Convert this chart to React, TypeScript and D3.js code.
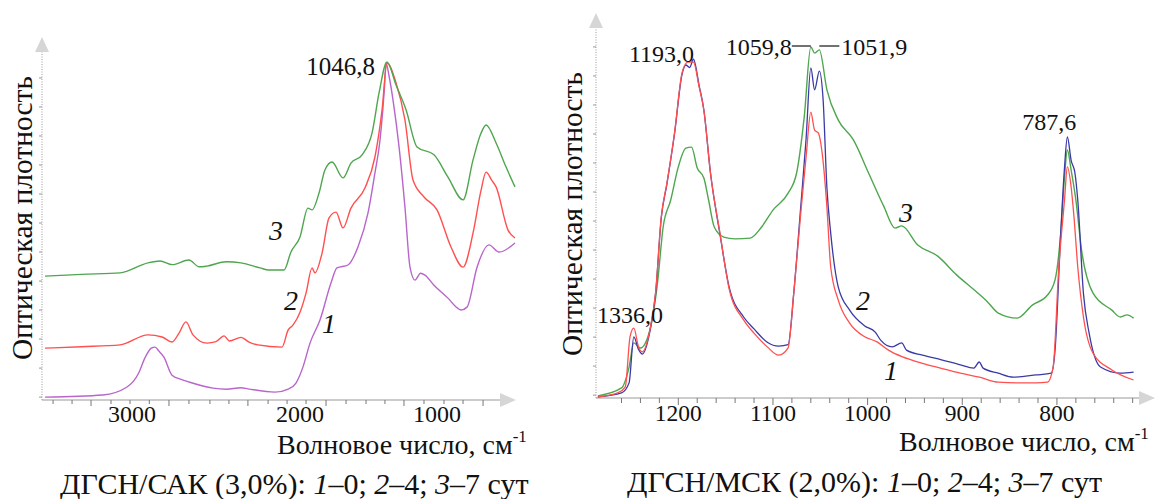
import React from 'react';
import * as d3 from 'd3';

// ДГСН/САК (3,0%) — wavenumber, optical density (arb. units)
const sakDay0: [number, number][] = [
  [3518, 0.8], [3173, 1.4], [3030, 3.6], [2960, 7.5], [2923, 11.7], [2885, 14.4], [2863, 14.7], [2840, 13.6],
  [2810, 11.9], [2762, 6.9], [2700, 5.6], [2661, 5.0], [2518, 3.3], [2440, 3.0], [2351, 3.4], [2310, 3.1],
  [2149, 2.2], [2066, 3.1], [2024, 4.7], [1978, 9.2], [1927, 15.8], [1854, 22.2], [1774, 32.5],
  [1730, 36.7], [1650, 37.5], [1577, 42.5], [1504, 51.9], [1453, 63.1], [1416, 72.2], [1385, 86],
  [1372, 93.6], [1350, 90], [1321, 83.3], [1277, 70.3], [1234, 53.6], [1197, 36.9], [1161, 33.3],
  [1120, 35.2], [1088, 34.7], [1022, 31.9], [920, 28.3], [850, 25.5], [825, 25.0], [781, 25.8],
  [708, 36.9], [621, 43.1], [547, 41.1], [431, 43.6],
];
const sakDay4: [number, number][] = [
  [3518, 14.4], [3300, 14.8], [3071, 15.3], [2905, 18.1], [2821, 17.5], [2762, 16.1], [2720, 18.6],
  [2679, 21.7], [2637, 18.1], [2554, 15.8], [2500, 16.2], [2452, 17.8], [2420, 16.4], [2351, 17.4],
  [2300, 16.0], [2250, 15.3], [2107, 14.7], [2071, 19.4], [2042, 20.8], [2000, 24.4], [1956, 29.7],
  [1912, 36.7], [1891, 35.3], [1839, 40.8], [1788, 50.6], [1737, 52.2], [1686, 47.8], [1628, 53.3],
  [1526, 58.9], [1453, 67.5], [1401, 80.6], [1365, 93.6], [1299, 88.1], [1234, 77.8], [1175, 61.1],
  [1095, 56.4], [1000, 52.8], [898, 42.5], [810, 36.9], [737, 46.4], [680, 58], [642, 63.3], [600, 61],
  [569, 59.2], [482, 47.2], [431, 45.0],
];
const sakDay7: [number, number][] = [
  [3518, 34.4], [3300, 34.9], [3071, 35.3], [2905, 38.1], [2833, 38.6], [2760, 37.6], [2661, 38.9],
  [2600, 37.0], [2554, 37.2], [2440, 38.4], [2351, 38.1], [2238, 36.7], [2185, 36.1], [2095, 36.1],
  [2054, 41.1], [2000, 45.3], [1942, 53.3], [1912, 52.8], [1861, 57.5], [1818, 63.9], [1766, 66.1],
  [1686, 61.7], [1628, 65.8], [1547, 68.1], [1474, 74.2], [1423, 85.3], [1365, 93.9], [1299, 87.5],
  [1226, 80.6], [1146, 70.3], [1022, 68.1], [920, 61.9], [810, 55.6], [737, 66.7], [680, 74], [642, 76.4],
  [569, 71.4], [496, 64.7], [431, 59.2],
];

// ДГСН/МСК (2,0%)
const mskDay0: [number, number][] = [
  [1285, 0.3], [1264, 1.4], [1256, 3.1], [1251, 17.0], [1247, 19.4], [1242, 14.2], [1238, 12.8],
  [1230, 18.9], [1224, 29.2], [1218, 50.3], [1212, 59.7], [1204, 73.6], [1196, 90.3], [1190, 93.3],
  [1184, 93.3], [1178, 86.4], [1173, 80.0], [1166, 62.5], [1156, 45.8], [1146, 30.0], [1131, 21.7],
  [1120, 18.0], [1106, 14.2], [1094, 11.9], [1084, 13.9], [1078, 29.2], [1071, 50.3], [1065, 67.0],
  [1060, 79.4], [1056, 74.4], [1052, 73.6], [1048, 68.0], [1043, 53.0], [1039, 36.4], [1031, 27.2],
  [1019, 20.8], [1003, 17.0], [990, 15.6], [978, 13.3], [963, 11.4], [943, 9.7], [923, 8.3],
  [902, 6.9], [882, 5.8], [862, 4.4], [842, 4.2], [822, 4.2], [810, 4.4], [804, 8.6], [798, 36.4],
  [792, 55.0], [789, 64.2], [785, 58.6], [782, 50.3], [778, 36.4], [772, 22.5], [762, 12.5],
  [742, 7.8], [719, 5.0],
];
const mskDay4: [number, number][] = [
  [1285, 0.3], [1260, 1.4], [1252, 4.2], [1247, 17.0], [1242, 13.5], [1238, 12.2], [1230, 18.5],
  [1224, 29.0], [1218, 50.0], [1212, 59.5], [1204, 73.4], [1196, 90.0], [1192, 92.5], [1188, 91.8],
  [1184, 94.1], [1178, 86.8], [1173, 80.0], [1166, 62.5], [1156, 45.5], [1146, 30.5], [1131, 22.5],
  [1120, 19.2], [1106, 15.5], [1094, 14.4], [1084, 14.8], [1078, 29.2], [1071, 52.0], [1065, 72.0],
  [1060, 91.7], [1056, 85.6], [1051, 90.8], [1047, 82.8], [1043, 58.3], [1039, 45.8], [1031, 30.8],
  [1019, 24.4], [1003, 20.0], [992, 18.3], [986, 16.0], [974, 14.2], [964, 15.3], [959, 13.3],
  [942, 11.9], [922, 10.6], [902, 9.2], [888, 8.3], [882, 10.0], [878, 8.3], [862, 6.9], [846, 5.8],
  [822, 6.4], [806, 6.9], [802, 13.3], [796, 45.8], [792, 64.0], [789, 72.5], [785, 66.0],
  [781, 62.5], [778, 55.0], [772, 29.0], [766, 18.0], [754, 8.6], [733, 6.9], [719, 7.2],
];
const mskDay7: [number, number][] = [
  [1285, 0.6], [1260, 2.8], [1252, 8.6], [1247, 15.3], [1240, 13.9], [1230, 18.9], [1222, 31.9],
  [1216, 47.5], [1208, 55.0], [1200, 64.2], [1192, 69.4], [1186, 69.7], [1180, 63.9], [1173, 61.1],
  [1168, 55.0], [1162, 47.5], [1152, 44.7], [1140, 44.2], [1124, 44.4], [1112, 47.5], [1100, 52.2],
  [1084, 56.9], [1075, 62.5], [1067, 78.0], [1060, 97.5], [1056, 95.8], [1051, 96.7], [1043, 85.6],
  [1031, 77.2], [1015, 71.7], [999, 62.5], [983, 53.3], [971, 47.2], [964, 47.8], [947, 42.5],
  [926, 39.4], [906, 34.2], [886, 29.7], [874, 26.9], [862, 23.6], [842, 22.2], [826, 25.8],
  [810, 28.6], [802, 32.8], [796, 45.8], [792, 61.4], [789, 68.9], [785, 63.3], [780, 55.0],
  [774, 41.1], [762, 29.2], [742, 24.4], [733, 22.5], [726, 23.1], [719, 22.2],
];

const leftTickLabels = [3000, 2000, 1000];
const leftMinorTicks = [3470, 3357, 3244, 3125, 3012, 2897, 2780, 2661, 2536, 2423, 2310, 2190, 2077,
  1956, 1810, 1664, 1518, 1380, 1241, 1095, 949, 810, 664];
const rightTickLabels = [1200, 1100, 1000, 900, 800];
const rightMinorTicks = d3.range(1260, 719, -20);
const densityTicks = d3.range(0.8, 100, 8.06);

const C_PURPLE = '#b865cc';
const C_RED = '#ff4f4f';
const C_GREEN = '#4ea64e';
const C_BLUE = '#3a3aa6';
const AXIS = '#9a9a9a';
const ARROW = '#d6d6d6';
const SERIF = 'Liberation Serif, DejaVu Serif, Noto Serif, serif';

const W = 1157;
const H = 499;

function Axes({ x0, x1, y0, yTop, yScale }: { x0: number; x1: number; y0: number; yTop: number; yScale: d3.ScaleLinear<number, number> }) {
  return (
    <g>
      <line x1={x0} x2={x0} y1={y0} y2={yTop + 12} stroke={AXIS} strokeWidth={1} strokeDasharray="1 1.5" />
      {densityTicks.map((t, i) => (
        <line key={i} x1={x0 - 3} x2={x0} y1={yScale(t)} y2={yScale(t)} stroke={AXIS} strokeWidth={1} />
      ))}
      <path d={`M${x0 - 7},${yTop + 15} L${x0},${yTop} L${x0 + 7},${yTop + 15} Z`} fill={ARROW} />
      <line x1={x0} x2={x1 - 14} y1={y0} y2={y0} stroke={AXIS} strokeWidth={1.2} />
      <path d={`M${x1 - 16},${y0 - 7} L${x1},${y0} L${x1 - 16},${y0 + 7} Z`} fill={ARROW} />
    </g>
  );
}

function Caption({ x, y, head }: { x: number; y: number; head: string }) {
  return (
    <text x={x} y={y} fontSize={30} fill="#111" fontFamily={SERIF}>
      {head}
      <tspan fontStyle="italic">1</tspan>–0; <tspan fontStyle="italic">2</tspan>–4; <tspan fontStyle="italic">3</tspan>–7 сут
    </text>
  );
}

function XTitle({ x, y }: { x: number; y: number }) {
  return (
    <text x={x} y={y} fontSize={28} fill="#111" fontFamily={SERIF}>
      Волновое число, см<tspan fontSize={17} dy={-12}>-1</tspan>
    </text>
  );
}

export default function App() {
  // left panel: the instrument's x axis is not uniform, so a piecewise scale
  const xL = d3.scaleLinear().domain([3536, 3000, 2000, 1000, 431]).range([42, 132, 300, 437, 515]);
  const yL = d3.scaleLinear().domain([0, 100]).range([400, 40]);
  const xR = d3.scaleLinear().domain([1288, 700]).range([595, 1151.6]);
  const yR = d3.scaleLinear().domain([0, 100]).range([398, 38]);

  const lineL = d3.line<[number, number]>().x(d => xL(d[0])).y(d => yL(d[1])).curve(d3.curveMonotoneX);
  const lineR = d3.line<[number, number]>().x(d => xR(d[0])).y(d => yR(d[1])).curve(d3.curveMonotoneX);

  const txt = { fill: '#111', fontFamily: SERIF };

  return (
    <svg width={W} height={H} style={{ position: 'absolute', left: 0, top: 0, background: '#fff' }}>
      <rect width={W} height={H} fill="#fff" />

      {/* left panel */}
      <Axes x0={42} x1={516} y0={400} yTop={37} yScale={yL} />
      {leftMinorTicks.map((t, i) => (
        <line key={i} x1={xL(t)} x2={xL(t)} y1={400} y2={i % 4 === 2 ? 406 : 404} stroke="#777" strokeWidth={1} />
      ))}
      {leftTickLabels.map(t => (
        <text key={t} x={xL(t)} y={422} textAnchor="middle" fontSize={24} {...txt}>{t}</text>
      ))}
      <path d={lineL(sakDay0) || ''} fill="none" stroke={C_PURPLE} strokeWidth={1.4} />
      <path d={lineL(sakDay4) || ''} fill="none" stroke={C_RED} strokeWidth={1.4} />
      <path d={lineL(sakDay7) || ''} fill="none" stroke={C_GREEN} strokeWidth={1.4} />
      <text x={xL(1365) - 12} y={yL(93.9) + 13} textAnchor="end" fontSize={25} {...txt}>1046,8</text>
      <text x={276} y={240} textAnchor="middle" fontSize={28} fontStyle="italic" {...txt}>3</text>
      <text x={291} y={310} textAnchor="middle" fontSize={28} fontStyle="italic" {...txt}>2</text>
      <text x={329} y={333} textAnchor="middle" fontSize={28} fontStyle="italic" {...txt}>1</text>
      <XTitle x={277} y={454} />
      <text transform="translate(32,218) rotate(-90)" textAnchor="middle" fontSize={29.5} {...txt}>Оптическая плотность</text>
      <Caption x={60} y={494} head="ДГСН/САК (3,0%): " />

      {/* right panel */}
      <Axes x0={596} x1={1155} y0={398} yTop={13} yScale={yR} />
      {rightMinorTicks.map(t => (
        <line key={t} x1={xR(t)} x2={xR(t)} y1={398} y2={t % 100 === 0 ? 405 : 403} stroke="#777" strokeWidth={1} />
      ))}
      {rightTickLabels.map(t => (
        <text key={t} x={xR(t)} y={421} textAnchor="middle" fontSize={23.5} {...txt}>{t}</text>
      ))}
      <path d={lineR(mskDay7) || ''} fill="none" stroke={C_GREEN} strokeWidth={1.4} />
      <path d={lineR(mskDay4) || ''} fill="none" stroke={C_BLUE} strokeWidth={1.3} />
      <path d={lineR(mskDay0) || ''} fill="none" stroke={C_RED} strokeWidth={1.3} />
      <text x={597} y={323} fontSize={24} {...txt}>1336,0</text>
      <text x={629} y={62} fontSize={24} {...txt}>1193,0</text>
      <text x={xR(1060) - 19} y={55} textAnchor="end" fontSize={24} {...txt}>1059,8</text>
      <line x1={xR(1060) - 19} x2={xR(1060)} y1={46} y2={46} stroke="#111" strokeWidth={1.2} />
      <line x1={xR(1051)} x2={xR(1051) + 20} y1={46} y2={46} stroke="#111" strokeWidth={1.2} />
      <text x={xR(1051) + 22} y={55} fontSize={24} {...txt}>1051,9</text>
      <text x={xR(789) - 45} y={130} fontSize={24} {...txt}>787,6</text>
      <text x={906} y={222} textAnchor="middle" fontSize={28} fontStyle="italic" {...txt}>3</text>
      <text x={863} y={310} textAnchor="middle" fontSize={28} fontStyle="italic" {...txt}>2</text>
      <text x={891} y={380} textAnchor="middle" fontSize={28} fontStyle="italic" {...txt}>1</text>
      <XTitle x={899} y={451} />
      <text transform="translate(582,214) rotate(-90)" textAnchor="middle" fontSize={29.5} {...txt}>Оптическая плотность</text>
      <Caption x={627} y={492} head="ДГСН/МСК (2,0%): " />
    </svg>
  );
}
